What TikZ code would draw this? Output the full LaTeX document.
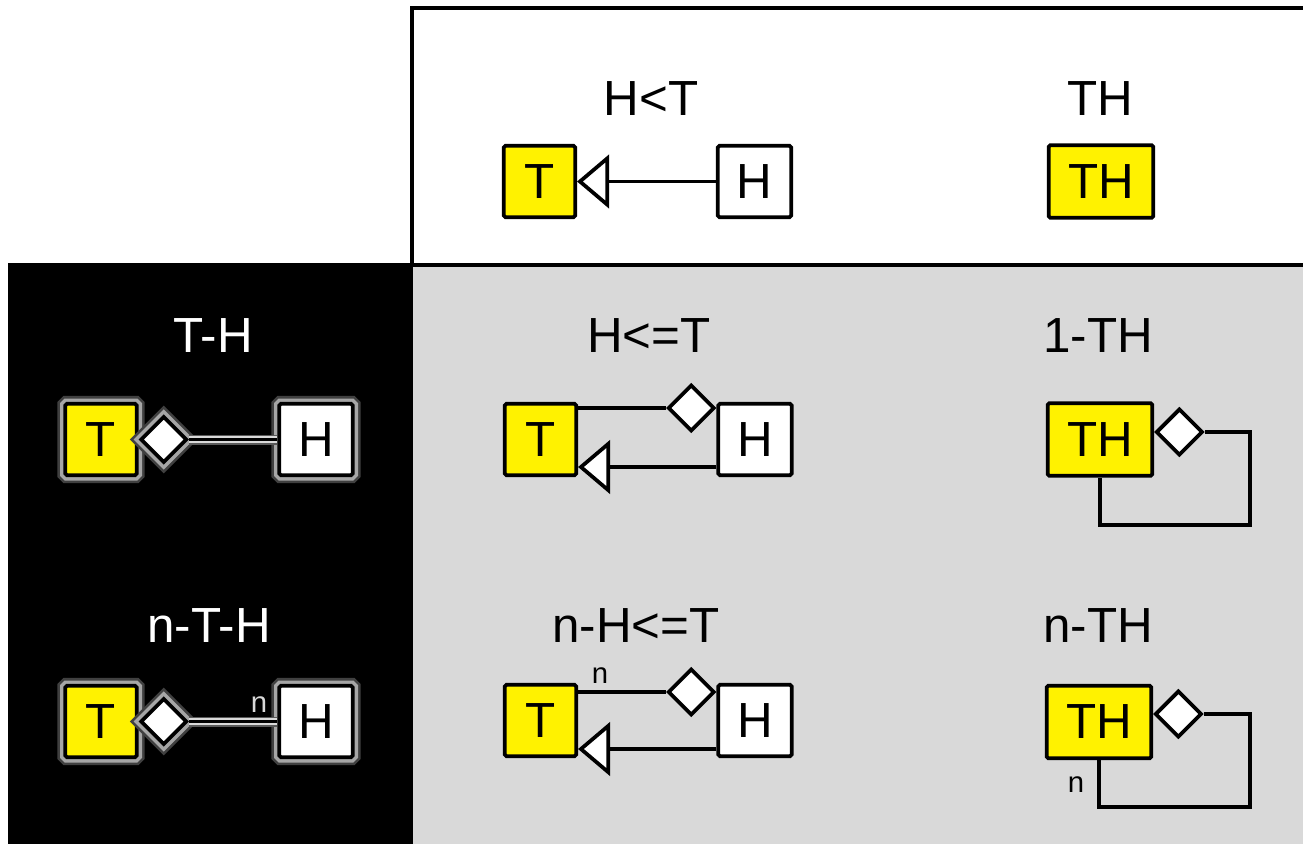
\documentclass[tikz,border=0pt]{standalone}
\usepackage{fontspec}
\setmainfont{Liberation Sans}
\usetikzlibrary{shapes.geometric,arrows.meta}
\newcommand\bigf{\fontsize{37}{40}\selectfont}
\newcommand\smallf{\fontsize{22}{24}\selectfont}
\definecolor{panelgray}{HTML}{D9D9D9}
\tikzset{
  basebox/.style={draw=black, line width=2.8pt, rounded corners=1.2pt, inner sep=0pt, font=\bigf},
  tbox/.style={basebox, fill=yellow, minimum width=53.5pt, minimum height=53.5pt},
  hbox/.style={basebox, fill=white, minimum width=55pt, minimum height=53.5pt},
  thbox/.style={basebox, fill=yellow, minimum width=78.5pt, minimum height=54.5pt},
  dia/.style={diamond, draw=black, fill=white, line width=2.8pt, inner sep=0pt, minimum width=35pt, minimum height=35pt},
  conn/.style={draw=black, line width=2.8pt},
  inh/.style={conn, -{Triangle[fill=white, length=24pt, width=40pt]}},
  title/.style={anchor=base, inner sep=0pt, font=\bigf},
  lab/.style={anchor=base, inner sep=0pt, font=\smallf},
  glow/.style={preaction={draw=black!75, line width=12pt}, preaction={draw=black!35, line width=8pt}},
  gconn/.style={preaction={draw=black!65, line width=7.5pt}, preaction={draw=black!15, line width=5pt}, draw=black, line width=1.8pt}
}
\begin{document}
\begin{tikzpicture}[x=0.75pt,y=-0.75pt]
\useasboundingbox (0,0) rectangle (1303,843);
% panels
\fill[white] (0,0) rectangle (1303,843);
\fill[panelgray] (413,265) rectangle (1310,850);
\fill[black] (8,263) rectangle (413,850);
\draw[line width=2.6pt] (412,265) -- (412,8) -- (1310,8);
\draw[line width=2.6pt] (412,265) -- (1310,265);
% helper coordinates
\coordinate (y408) at (0,408);
\coordinate (y467) at (0,467);
\coordinate (y432) at (0,432);
\coordinate (y692) at (0,692);
\coordinate (y749) at (0,749);
\coordinate (y714) at (0,714);
\coordinate (c3) at (1250,525);
\coordinate (c6) at (1250,807);

% ---- Row 0 ----
\node[title] (t0a) at (651,115) {H<T};
\node[title] (t0b) at (1100,115) {TH};
\node[tbox] (T0) at (539.5,181.5) {T};
\node[hbox] (H0) at (754.5,181.5) {H};
\node[thbox] (TH0) at (1101,181.5) {TH};
\draw[inh] (H0.west) -- (T0.east);

% ---- Row 1 left (black) ----
\node[title, text=white] (t1a) at (213,352) {T-H};
\node[tbox, glow] (T1) at (101,439.5) {T};
\node[hbox, glow] (H1) at (316,439.5) {H};
\node[dia, glow, anchor=west] (d1) at (T1.east) {};
\draw[gconn] (d1.east) -- (H1.west);

% ---- Row 1 middle ----
\node[title] (t1b) at (649,352) {H<=T};
\node[tbox] (T2) at (540.5,439.5) {T};
\node[hbox] (H2) at (755,439.5) {H};
\node[dia, anchor=east] (d2) at (H2.west |- y408) {};
\draw[conn] (d2.west) -- (d2.west -| T2.east);
\draw[inh] (H2.west |- y467) -- (T2.east |- y467);

% ---- Row 1 right ----
\node[title] (t1c) at (1098,352) {1-TH};
\node[thbox] (TH1) at (1100,439.5) {TH};
\node[dia, anchor=west] (d3) at (TH1.east |- y432) {};
\draw[conn] (d3.east) -| (c3) -| (TH1.south);

% ---- Row 2 left (black) ----
\node[title, text=white] (t2a) at (209,642) {n-T-H};
\node[tbox, glow] (T3) at (101,721.5) {T};
\node[hbox, glow] (H3) at (316,721.5) {H};
\node[dia, glow, anchor=west] (d4) at (T3.east) {};
\draw[gconn] (d4.east) -- (H3.west);
\node[lab, text=white!85!black] (n1) at (259,712) {n};

% ---- Row 2 middle ----
\node[title] (t2b) at (636,642) {n-H<=T};
\node[tbox] (T4) at (540.5,720.5) {T};
\node[hbox] (H4) at (755,720.5) {H};
\node[dia, anchor=east] (d5) at (H4.west |- y692) {};
\draw[conn] (d5.west) -- (d5.west -| T4.east);
\draw[inh] (H4.west |- y749) -- (T4.east |- y749);
\node[lab] (n2) at (600,683) {n};

% ---- Row 2 right ----
\node[title] (t2c) at (1098,642) {n-TH};
\node[thbox] (TH2) at (1099,722) {TH};
\node[dia, anchor=west] (d6) at (TH2.east |- y714) {};
\draw[conn] (d6.east) -| (c6) -| (TH2.south);
\node[lab] (n3) at (1076,792) {n};
\end{tikzpicture}
\end{document}
